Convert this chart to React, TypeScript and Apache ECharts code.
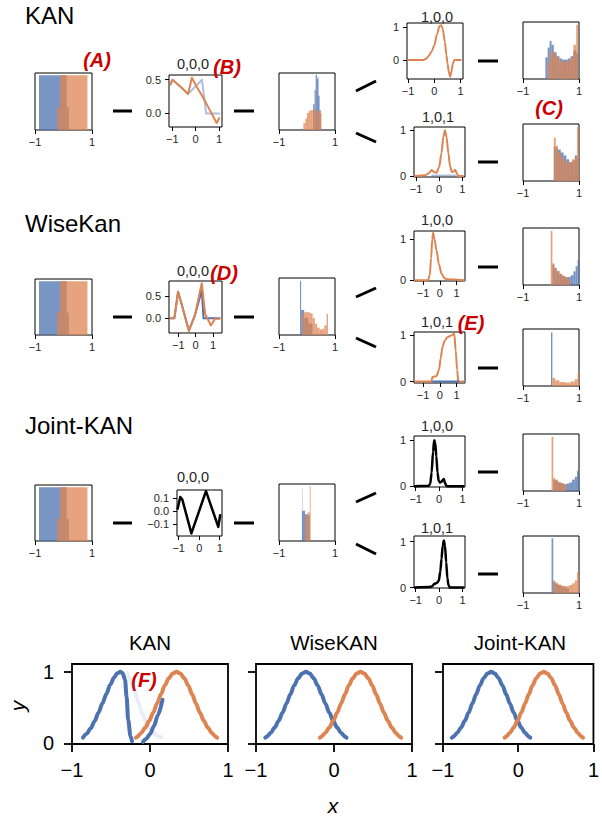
import React, { useEffect, useRef } from 'react';
import * as echarts from 'echarts';

const BLUE = '#4c72b0';
const ORANGE = '#dd8452';
const H_BLUE = 'rgba(76,114,176,0.75)';
const H_ORANGE = 'rgba(221,132,82,0.75)';
const H_PALE = 'rgba(76,114,176,0.3)';
const FONT = '"Liberation Sans", Arial, sans-serif';

// ---------- histogram bins: [x0, x1, height as fraction of panel] ----------
const histA_blue = [[-0.86, 0.11, 0.96], [0.11, 0.19, 0.4]];
const histA_orange = [[-0.22, -0.12, 0.4], [-0.12, 0.84, 0.96]];

const hist1c_pale = [[0.38, 0.43, 0.93]];
const hist1c_blue = [[0.22, 0.27, 0.45], [0.27, 0.31, 0.7], [0.31, 0.36, 0.97], [0.36, 0.4, 0.9], [0.4, 0.45, 0.6], [0.45, 0.49, 0.35]];
const hist1c_orange = [[-0.13, -0.06, 0.12], [-0.06, 0.0, 0.2], [0.0, 0.07, 0.3], [0.07, 0.14, 0.34], [0.14, 0.21, 0.35], [0.21, 0.28, 0.36], [0.28, 0.35, 0.35], [0.35, 0.42, 0.33], [0.42, 0.52, 0.3]];

const hist1e_blue = [[-0.2, -0.12, 0.38], [-0.12, -0.05, 0.55], [-0.05, 0.02, 0.67], [0.02, 0.1, 0.6], [0.1, 0.2, 0.47], [0.2, 0.3, 0.4], [0.3, 0.4, 0.36], [0.4, 0.5, 0.34], [0.5, 0.6, 0.34], [0.6, 0.7, 0.36], [0.7, 0.8, 0.4], [0.8, 0.9, 0.5], [0.9, 0.97, 0.45]];
const hist1e_orange = [[-0.12, -0.05, 0.3], [-0.05, 0.02, 0.45], [0.02, 0.1, 0.5], [0.1, 0.2, 0.43], [0.2, 0.3, 0.38], [0.3, 0.4, 0.33], [0.4, 0.5, 0.3], [0.5, 0.6, 0.3], [0.6, 0.7, 0.33], [0.7, 0.8, 0.38], [0.8, 0.9, 0.6], [0.9, 0.97, 0.95]];

const hist1f_blue = [[0.1, 0.17, 0.6], [0.17, 0.25, 0.58], [0.25, 0.35, 0.55], [0.35, 0.45, 0.5], [0.45, 0.55, 0.45], [0.55, 0.65, 0.38], [0.65, 0.75, 0.33], [0.75, 0.85, 0.36], [0.85, 0.93, 0.45], [0.93, 1.0, 0.4]];
const hist1f_orange = [[0.1, 0.17, 0.76], [0.17, 0.25, 0.62], [0.25, 0.35, 0.5], [0.35, 0.45, 0.42], [0.45, 0.55, 0.37], [0.55, 0.65, 0.33], [0.65, 0.75, 0.33], [0.75, 0.85, 0.38], [0.85, 0.93, 0.42], [0.93, 1.0, 0.95]];

const hist2c_blue = [[-0.25, -0.21, 0.95], [-0.21, -0.1, 0.44], [-0.1, 0.05, 0.3], [0.05, 0.2, 0.2]];
const hist2c_orange = [[-0.17, -0.1, 0.38], [-0.1, 0.0, 0.4], [0.0, 0.1, 0.4], [0.1, 0.2, 0.38], [0.2, 0.28, 0.3], [0.28, 0.36, 0.2], [0.36, 0.45, 0.13], [0.45, 0.55, 0.1], [0.55, 0.62, 0.11], [0.62, 0.7, 0.17], [0.7, 0.75, 0.37]];

const hist2e_blue = [[0.05, 0.12, 0.36], [0.12, 0.2, 0.3], [0.2, 0.3, 0.24], [0.3, 0.4, 0.19], [0.4, 0.5, 0.16], [0.5, 0.6, 0.14], [0.6, 0.7, 0.14], [0.7, 0.8, 0.17], [0.8, 0.88, 0.24], [0.88, 0.95, 0.33], [0.95, 1.0, 0.44]];
const hist2e_orange = [[-0.01, 0.05, 0.95], [0.05, 0.12, 0.38], [0.12, 0.2, 0.3], [0.2, 0.3, 0.25], [0.3, 0.4, 0.2], [0.4, 0.5, 0.16], [0.5, 0.6, 0.13], [0.6, 0.68, 0.1]];

const hist2f_blue = [[0.0, 0.05, 0.94]];
const hist2f_orange = [[0.05, 0.15, 0.14], [0.15, 0.3, 0.1], [0.3, 0.5, 0.07], [0.5, 0.7, 0.06], [0.7, 0.85, 0.08], [0.85, 0.95, 0.12], [0.95, 1.0, 0.23]];

const hist3c_pale = [[-0.18, -0.15, 0.92]];
const hist3c_blue = [[-0.18, -0.07, 0.53], [-0.07, 0.02, 0.47], [0.02, 0.1, 0.45]];
const hist3c_orange = [[-0.07, 0.02, 0.44], [0.02, 0.1, 0.5], [0.1, 0.13, 0.96]];

const hist3e_blue = [[0.08, 0.15, 0.2], [0.15, 0.25, 0.18], [0.25, 0.35, 0.15], [0.35, 0.45, 0.13], [0.45, 0.55, 0.12], [0.55, 0.65, 0.13], [0.65, 0.75, 0.15], [0.75, 0.85, 0.2], [0.85, 0.93, 0.25], [0.93, 1.0, 0.35]];
const hist3e_orange = [[0.02, 0.08, 0.95], [0.08, 0.15, 0.23], [0.15, 0.25, 0.2], [0.25, 0.35, 0.16], [0.35, 0.45, 0.14], [0.45, 0.55, 0.12]];

const hist3f_blue = [[0.02, 0.08, 0.96], [0.08, 0.15, 0.2], [0.15, 0.25, 0.16], [0.25, 0.35, 0.14], [0.35, 0.45, 0.12], [0.45, 0.55, 0.1], [0.55, 0.65, 0.08]];
const hist3f_orange = [[0.08, 0.15, 0.22], [0.15, 0.25, 0.18], [0.25, 0.35, 0.15], [0.35, 0.45, 0.13], [0.45, 0.55, 0.12], [0.55, 0.65, 0.12], [0.65, 0.75, 0.14], [0.75, 0.85, 0.17], [0.85, 0.93, 0.22], [0.93, 1.0, 0.36]];

// ---------- activation function curves ----------
const fB1_blue = [[-1.07, 0.43], [-0.99, 0.5], [-0.6, 0.38], [-0.32, 0.29], [0.27, 0.5], [0.45, 0.0], [1.01, 0.0]];
const fB1_orange = [[-1.07, 0.43], [-0.99, 0.5], [-0.6, 0.38], [-0.32, 0.29], [-0.16, 0.53], [0.04, 0.4], [0.33, 0.23], [0.61, 0.05], [0.9, -0.14], [1.01, -0.07]];
const f1a_orange = [[-1.0, 0], [-0.44, 0], [-0.3, 0.05], [-0.2, 0.14], [-0.1, 0.27], [0, 0.45], [0.1, 0.78], [0.2, 1.03], [0.26, 1.05], [0.32, 0.95], [0.4, 0.55], [0.46, 0.15], [0.5, -0.1], [0.55, -0.35], [0.6, -0.5], [0.65, -0.35], [0.7, -0.12], [0.76, 0], [1.0, 0]];
const f1b_blue = [[-0.3, 0.01], [0.7, 0.01]];
const f1b_orange = [[-1.05, 0], [-0.6, 0.02], [-0.45, 0.06], [-0.32, 0.13], [-0.22, 0.09], [-0.12, 0.07], [0, 0.2], [0.1, 0.5], [0.18, 0.85], [0.25, 1.0], [0.32, 0.85], [0.4, 0.5], [0.47, 0.22], [0.55, 0.09], [0.62, 0.1], [0.7, 0.14], [0.76, 0.06], [0.82, 0], [1.03, 0]];

const fD2_blue = [[-1.45, 0], [-1.22, 0], [-1.01, 0.59], [-0.76, 0.25], [-0.39, -0.28], [-0.04, 0.07], [0.35, 0.62], [0.45, 0.0], [1.37, 0]];
const fD2_orange = [[-1.45, 0], [-1.22, 0], [-1.01, 0.59], [-0.76, 0.25], [-0.39, -0.28], [-0.04, 0.07], [0.35, 0.78], [0.54, 0.1], [0.87, -0.16], [1.12, -0.01], [1.37, -0.01]];
const f2a_orange = [[-1.5, 0], [-0.7, 0], [-0.6, 0.12], [-0.52, 0.55], [-0.45, 1.0], [-0.4, 1.16], [-0.32, 1.0], [-0.2, 0.73], [-0.05, 0.38], [0.1, 0.16], [0.25, 0.06], [0.4, 0.02], [1.44, 0]];
const f2b_blue = [[-0.4, 0], [1.1, 0]];
const f2b_orange = [[-1.5, 0], [-0.5, 0], [-0.44, 0.1], [-0.3, 0.11], [-0.2, 0.12], [-0.05, 0.25], [0.05, 0.5], [0.16, 0.75], [0.3, 0.88], [0.45, 0.95], [0.65, 0.98], [0.86, 1.02], [0.95, 0.65], [1.03, 0.25], [1.1, 0], [1.44, 0]];

const fJ3 = [[-1.05, 0.02], [-0.92, 0.11], [-0.82, 0.09], [-0.38, -0.17], [0.33, 0.155], [0.93, -0.12], [1.02, -0.03]];
const f3a = [[-1.03, 0], [-0.45, 0.01], [-0.38, 0.05], [-0.32, 0.3], [-0.26, 0.75], [-0.21, 1.0], [-0.17, 0.95], [-0.12, 0.65], [-0.07, 0.3], [-0.02, 0.12], [0.04, 0.08], [0.1, 0.1], [0.15, 0.13], [0.2, 0.16], [0.25, 0.07], [0.3, 0.02], [0.35, 0], [1.03, 0]];
const f3b = [[-1.03, 0], [-0.4, 0.01], [-0.3, 0.03], [-0.2, 0.08], [-0.1, 0.1], [-0.02, 0.14], [0.05, 0.35], [0.1, 0.62], [0.15, 0.9], [0.2, 1.02], [0.25, 0.9], [0.3, 0.55], [0.35, 0.2], [0.4, 0.05], [0.46, 0], [1.03, 0]];

// ---------- bottom panels ----------
const kanBlue1 = [[-0.86, 0.08], [-0.81, 0.135], [-0.76, 0.21], [-0.71, 0.31], [-0.66, 0.43], [-0.61, 0.56], [-0.56, 0.69], [-0.51, 0.82], [-0.46, 0.92], [-0.42, 0.98], [-0.38, 1.0], [-0.35, 0.98], [-0.32, 0.89], [-0.3, 0.65], [-0.28, 0.33], [-0.25, 0.1], [-0.23, 0.03]];
const kanBlue2 = [[-0.09, 0.02], [-0.05, 0.06], [0, 0.13], [0.05, 0.24], [0.1, 0.39], [0.16, 0.61]];
const kanGhost = [[-0.29, 0.99], [-0.25, 0.88], [-0.2, 0.73], [-0.15, 0.57], [-0.1, 0.42], [-0.05, 0.3], [0, 0.2], [0.05, 0.14], [0.1, 0.1], [0.15, 0.08]];
const bellBlue = [[-0.88, 0.078], [-0.86, 0.094], [-0.81, 0.147], [-0.76, 0.22], [-0.71, 0.314], [-0.66, 0.427], [-0.61, 0.554], [-0.56, 0.685], [-0.51, 0.81], [-0.46, 0.91], [-0.41, 0.977], [-0.36, 1], [-0.31, 0.977], [-0.26, 0.91], [-0.21, 0.81], [-0.16, 0.685], [-0.11, 0.554], [-0.06, 0.427], [-0.01, 0.314], [0.04, 0.22], [0.09, 0.147], [0.14, 0.094], [0.16, 0.078]];
const bellOrange = [[-0.18, 0.078], [-0.16, 0.094], [-0.11, 0.147], [-0.06, 0.22], [-0.01, 0.314], [0.04, 0.427], [0.09, 0.554], [0.14, 0.685], [0.19, 0.81], [0.24, 0.91], [0.29, 0.977], [0.34, 1], [0.39, 0.977], [0.44, 0.91], [0.49, 0.81], [0.54, 0.685], [0.59, 0.554], [0.64, 0.427], [0.69, 0.314], [0.74, 0.22], [0.79, 0.147], [0.84, 0.094], [0.86, 0.078]];

const TICKS_X = [-1, 0, 1];
const TICKS_EDGE = [-1, 1];

function fmt(dec: number) {
  return (v: number) => {
    const s = Math.abs(v).toFixed(dec);
    return v < 0 ? '\u2212' + s : s;
  };
}

function buildOption() {
  const grid: any[] = [];
  const xAxis: any[] = [];
  const yAxis: any[] = [];
  const series: any[] = [];

  const addPanel = (p: any) => {
    const i = grid.length;
    const big = !!p.big;
    const bw = big ? 1.8 : 1;
    const tl = big ? 8 : 4;
    const fs = big ? 20 : 11;
    const col = big ? '#000' : '#262626';
    grid.push({ left: p.l, top: p.t, width: p.w, height: p.h, show: true, borderColor: '#000', borderWidth: bw, backgroundColor: 'rgba(0,0,0,0)' });
    xAxis.push({
      gridIndex: i, type: 'value', min: p.x[0], max: p.x[1],
      axisLine: { show: false, onZero: false }, splitLine: { show: false },
      axisTick: { show: true, customValues: p.xt, length: tl, lineStyle: { color: '#000', width: bw } },
      axisLabel: { show: true, customValues: p.xt, formatter: fmt(0), fontSize: fs, color: col, fontFamily: FONT, margin: big ? 16 : 6 },
    });
    const hasY = p.yt && p.yt.length > 0;
    yAxis.push({
      gridIndex: i, type: 'value', min: p.y[0], max: p.y[1],
      axisLine: { show: false, onZero: false }, splitLine: { show: false },
      axisTick: { show: hasY, customValues: hasY ? p.yt : [], length: tl, lineStyle: { color: '#000', width: bw } },
      axisLabel: { show: hasY && !p.noYLabel, customValues: hasY ? p.yt : [], formatter: fmt(p.yd || 0), fontSize: fs, color: col, fontFamily: FONT, margin: big ? 18 : 8 },
    });
    return i;
  };

  const hist = (i: number, bins: number[][], color: string) => {
    series.push({
      type: 'custom', xAxisIndex: i, yAxisIndex: i, data: bins, encode: { x: [0, 1], y: 2 }, silent: true,
      renderItem: (_params: any, api: any) => {
        const a = api.coord([api.value(0), api.value(2)]);
        const b = api.coord([api.value(1), 0]);
        return { type: 'rect', shape: { x: a[0], y: a[1], width: b[0] - a[0], height: b[1] - a[1] }, style: { fill: color } };
      },
    });
  };

  const line = (i: number, data: number[][], color: string, width: number, smooth: any = false, clip = true) => {
    series.push({ type: 'line', xAxisIndex: i, yAxisIndex: i, data, symbol: 'none', showSymbol: false, smooth, smoothMonotone: 'x', clip, silent: true, lineStyle: { color, width, cap: 'round', join: 'round' } });
  };

  const histPanel = (l: number, t: number, w: number, h: number, layers: [number[][], string][]) => {
    const i = addPanel({ l, t, w, h, x: [-1, 1], y: [0, 1], xt: TICKS_EDGE, yt: [] });
    layers.forEach(([b, c]) => hist(i, b, c));
  };

  // ----- Row 1: KAN -----
  histPanel(35, 73, 57, 57, [[histA_blue, H_BLUE], [histA_orange, H_ORANGE]]);
  let i = addPanel({ l: 169, t: 75, w: 53, h: 52, x: [-1.14, 1.13], y: [-0.2, 0.57], xt: TICKS_X, yt: [0, 0.5], yd: 1 });
  line(i, fB1_blue, 'rgba(76,114,176,0.45)', 2);
  line(i, fB1_orange, ORANGE, 2);
  histPanel(279, 73, 56, 57, [[hist1c_pale, H_PALE], [hist1c_blue, H_BLUE], [hist1c_orange, H_ORANGE]]);
  i = addPanel({ l: 407, t: 23, w: 56, h: 56, x: [-1.04, 1.09], y: [-0.57, 1.12], xt: TICKS_X, yt: [0, 1] });
  line(i, f1a_orange, ORANGE, 2, 0.3);
  histPanel(523, 22, 56, 57, [[hist1e_blue, H_BLUE], [hist1e_orange, H_ORANGE]]);
  i = addPanel({ l: 414, t: 127, w: 51, h: 50, x: [-1.09, 1.12], y: [-0.02, 1.07], xt: TICKS_X, yt: [0, 1] });
  line(i, f1b_blue, 'rgba(76,114,176,0.45)', 2);
  line(i, f1b_orange, ORANGE, 2, 0.3);
  histPanel(523, 124, 56, 57, [[hist1f_blue, H_BLUE], [hist1f_orange, H_ORANGE]]);

  // ----- Row 2: WiseKan -----
  histPanel(35, 279, 57, 56, [[histA_blue, H_BLUE], [histA_orange, H_ORANGE]]);
  i = addPanel({ l: 169, t: 281, w: 53, h: 52, x: [-1.53, 1.51], y: [-0.33, 0.83], xt: TICKS_X, yt: [0, 0.5], yd: 1 });
  line(i, fD2_blue, BLUE, 2);
  line(i, fD2_orange, ORANGE, 2);
  histPanel(279, 278, 56, 57, [[hist2c_blue, H_BLUE], [hist2c_orange, H_ORANGE]]);
  i = addPanel({ l: 414, t: 231, w: 51, h: 50, x: [-1.54, 1.5], y: [-0.02, 1.2], xt: TICKS_X, yt: [0, 1] });
  line(i, f2a_orange, ORANGE, 2, 0.3);
  histPanel(523, 228, 56, 57, [[hist2e_blue, H_BLUE], [hist2e_orange, H_ORANGE]]);
  i = addPanel({ l: 414, t: 332, w: 51, h: 51, x: [-1.54, 1.5], y: [-0.03, 1.06], xt: TICKS_X, yt: [0, 1] });
  line(i, f2b_orange, ORANGE, 2, 0.3);
  line(i, f2b_blue, BLUE, 2);
  histPanel(523, 329, 56, 57, [[hist2f_blue, H_BLUE], [hist2f_orange, H_ORANGE]]);

  // ----- Row 3: Joint-KAN -----
  histPanel(35, 485, 57, 56, [[histA_blue, H_BLUE], [histA_orange, H_ORANGE]]);
  i = addPanel({ l: 177, t: 490, w: 45, h: 46, x: [-1.08, 1.11], y: [-0.19, 0.164], xt: TICKS_X, yt: [-0.1, 0, 0.1], yd: 1 });
  line(i, fJ3, '#000', 2.5);
  histPanel(279, 484, 56, 57, [[hist3c_pale, H_PALE], [hist3c_blue, H_BLUE], [hist3c_orange, H_ORANGE]]);
  i = addPanel({ l: 414, t: 436, w: 51, h: 51, x: [-1.07, 1.1], y: [-0.015, 1.09], xt: TICKS_X, yt: [0, 1] });
  line(i, f3a, '#000', 2.5, 0.3);
  histPanel(523, 434, 56, 57, [[hist3e_blue, H_BLUE], [hist3e_orange, H_ORANGE]]);
  i = addPanel({ l: 414, t: 536, w: 51, h: 52, x: [-1.07, 1.1], y: [-0.01, 1.12], xt: TICKS_X, yt: [0, 1] });
  line(i, f3b, '#000', 2.5, 0.3);
  histPanel(523, 536, 56, 57, [[hist3f_blue, H_BLUE], [hist3f_orange, H_ORANGE]]);

  // ----- Bottom comparison -----
  i = addPanel({ big: true, l: 72, t: 664, w: 156, h: 80, x: [-1, 1], y: [-0.01, 1.11], xt: TICKS_X, yt: [0, 1] });
  line(i, kanGhost, 'rgba(76,114,176,0.12)', 4, 0.3, false);
  line(i, kanBlue1, BLUE, 4, 0.3, false);
  line(i, kanBlue2, BLUE, 4, 0.3, false);
  line(i, bellOrange, ORANGE, 4, 0.3, false);
  i = addPanel({ big: true, l: 256, t: 664, w: 156, h: 80, x: [-1, 1], y: [-0.01, 1.11], xt: TICKS_X, yt: [0, 1], noYLabel: true });
  line(i, bellBlue, BLUE, 4, 0.3, false);
  line(i, bellOrange, ORANGE, 4, 0.3, false);
  i = addPanel({ big: true, l: 443, t: 664, w: 154, h: 80, x: [-1, 1], y: [-0.01, 1.11], xt: TICKS_X, yt: [0, 1], noYLabel: true });
  line(i, bellBlue, BLUE, 4, 0.3, false);
  line(i, bellOrange, ORANGE, 4, 0.3, false);

  // ----- graphic decorations -----
  const els: any[] = [];
  const txt = (x: number, y: number, text: string, font: string, fill = '#000', align = 'center', rotation = 0) =>
    els.push({ type: 'text', x, y, rotation, silent: true, style: { text, font, fill, align, verticalAlign: 'middle' } });
  const seg = (x1: number, y1: number, x2: number, y2: number) =>
    els.push({ type: 'line', silent: true, shape: { x1, y1, x2, y2 }, style: { stroke: '#000', lineWidth: 3 } });

  txt(25, 15, 'KAN', `24px ${FONT}`, '#000', 'left');
  txt(25, 223, 'WiseKan', `24px ${FONT}`, '#000', 'left');
  txt(25, 425, 'Joint-KAN', `24px ${FONT}`, '#000', 'left');

  const sub = `14.5px ${FONT}`;
  txt(193, 64, '0,0,0', sub, '#262626');
  txt(437, 17, '1,0,0', sub, '#262626');
  txt(438, 117, '1,0,1', sub, '#262626');
  txt(193, 271, '0,0,0', sub, '#262626');
  txt(437, 220, '1,0,0', sub, '#262626');
  txt(437, 322, '1,0,1', sub, '#262626');
  txt(193, 477, '0,0,0', sub, '#262626');
  txt(437, 426, '1,0,0', sub, '#262626');
  txt(437, 528, '1,0,1', sub, '#262626');

  const red = `italic bold 20px ${FONT}`;
  const RED = '#cc0000';
  txt(97, 60, '(A)', red, RED);
  txt(227, 67, '(B)', red, RED);
  txt(549, 108, '(C)', red, RED);
  txt(224, 273, '(D)', red, RED);
  txt(471, 323, '(E)', red, RED);
  txt(144, 680, '(F)', red, RED);

  const bt = `20.5px ${FONT}`;
  txt(150, 642, 'KAN', bt);
  txt(334, 642, 'WiseKAN', bt);
  txt(520, 642, 'Joint-KAN', bt);
  txt(17, 706, 'y', `italic 21px ${FONT}`, '#000', 'center', Math.PI / 2);
  txt(333, 805, 'x', `italic 21px ${FONT}`);

  // connectors
  const rowsY = [[111, 61, 162, [91, 81], [133, 142]], [317, 267, 368, [297, 288], [338, 347]], [523, 472, 574, [502, 493], [544, 554]]] as any[];
  rowsY.forEach(([ym, yt, yb, s1, s2]) => {
    seg(113, ym, 132, ym);
    seg(234, ym, 254, ym);
    seg(478, yt, 498, yt);
    seg(478, yb, 498, yb);
    seg(356, s1[0], 376, s1[1]);
    seg(356, s2[0], 376, s2[1]);
  });

  return {
    animation: false,
    backgroundColor: '#fff',
    textStyle: { fontFamily: FONT },
    grid, xAxis, yAxis, series,
    graphic: { elements: els },
  };
}

export default function App() {
  const ref = useRef<HTMLDivElement>(null);
  useEffect(() => {
    document.body.style.margin = '0';
    if (!ref.current) return;
    const chart = echarts.init(ref.current, undefined, { renderer: 'svg' });
    chart.setOption(buildOption() as any);
    return () => chart.dispose();
  }, []);
  return <div ref={ref} style={{ width: 602, height: 817 }} />;
}
